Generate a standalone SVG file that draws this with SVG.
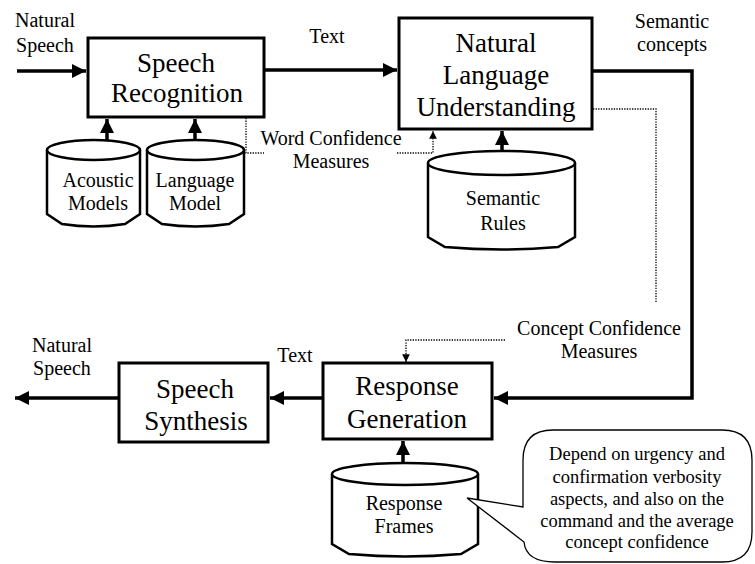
<svg xmlns="http://www.w3.org/2000/svg" width="755" height="564" viewBox="0 0 755 564">
<style>
text{font-family:'Liberation Serif','Tinos','DejaVu Serif','Noto Serif',serif;fill:#000;text-anchor:middle}
.big{font-size:27px}
.sm{font-size:20px}
.note{font-size:18.5px}
.box{fill:#fff;stroke:#000;stroke-width:3}
.cyl{fill:#fff;stroke:#000;stroke-width:2.5}
.thick{fill:none;stroke:#000;stroke-width:3.5}
.dot{fill:none;stroke:#000;stroke-width:1.3;stroke-dasharray:1.3 1.3}
</style>
<defs>
<marker id="ah" viewBox="0 0 10 10" refX="10" refY="5" markerWidth="4" markerHeight="4" orient="auto" markerUnits="strokeWidth">
<path d="M0,0 L10,5 L0,10 Z" fill="#000"/>
</marker>
<marker id="ahs" viewBox="0 0 10 10" refX="10" refY="5" markerWidth="6" markerHeight="6" orient="auto" markerUnits="strokeWidth">
<path d="M0,0 L10,5 L0,10 Z" fill="#000"/>
</marker>
</defs>

<g id="connectors">
<path class="thick" d="M17,71 H86" marker-end="url(#ah)"/>
<path class="thick" d="M264,70 H397" marker-end="url(#ah)"/>
<path class="thick" d="M592,71 H692 V398 H494" marker-end="url(#ah)"/>
<path class="thick" d="M323,398 H270" marker-end="url(#ah)"/>
<path class="thick" d="M119,398 H15" marker-end="url(#ah)"/>
<path class="thick" d="M107,150 V119" marker-end="url(#ah)"/>
<path class="thick" d="M195,150 V119" marker-end="url(#ah)"/>
<path class="thick" d="M502,163 V131" marker-end="url(#ah)"/>
<path class="thick" d="M403,474 V441" marker-end="url(#ah)"/>
<path class="dot" d="M246,118 V153 H264"/>
<path class="dot" d="M397,153 H433 V131" marker-end="url(#ahs)"/>
<path class="dot" d="M593,109 H656 V302"/>
<path class="dot" d="M505,340 H406 V362" marker-end="url(#ahs)"/>
</g>

<g id="labels" font-family="Liberation Serif, serif">
<text class="sm" x="45" y="27">Natural</text>
<text class="sm" x="45" y="52">Speech</text>
<text class="sm" x="327" y="43">Text</text>
<text class="sm" x="672" y="28">Semantic</text>
<text class="sm" x="672" y="51">concepts</text>
<text class="sm" x="331" y="145">Word Confidence</text>
<text class="sm" x="331" y="168">Measures</text>
<text class="sm" x="599" y="335">Concept Confidence</text>
<text class="sm" x="599" y="358">Measures</text>
<text class="sm" x="62" y="352">Natural</text>
<text class="sm" x="62" y="375">Speech</text>
<text class="sm" x="295" y="362">Text</text>
</g>

<g id="speech-recognition">
<rect class="box" x="88" y="38" width="176" height="79"/>
<text class="big" x="176" y="72">Speech</text>
<text class="big" x="177" y="102">Recognition</text>
</g>

<g id="nlu">
<rect class="box" x="399" y="18" width="193" height="111"/>
<text class="big" x="496" y="52">Natural</text>
<text class="big" x="496" y="84">Language</text>
<text class="big" x="496" y="116">Understanding</text>
</g>

<g id="acoustic-models">
<path class="cyl" d="M47,150 V214 L62,224 Q93.5,229 125,224 L140,214 V150"/>
<ellipse class="cyl" cx="93.5" cy="150" rx="46.5" ry="10"/>
<text class="sm" x="98" y="187">Acoustic</text>
<text class="sm" x="98" y="210">Models</text>
</g>

<g id="language-model">
<path class="cyl" d="M147,150 V214 L162,224 Q195.5,229 229,224 L244,214 V150"/>
<ellipse class="cyl" cx="195.5" cy="150" rx="48.5" ry="10"/>
<text class="sm" x="195" y="187">Language</text>
<text class="sm" x="195" y="210">Model</text>
</g>

<g id="semantic-rules">
<path class="cyl" d="M428,163 V237 L445,247 Q501.5,252 558,247 L575,237 V163"/>
<ellipse class="cyl" cx="501.5" cy="163" rx="73.5" ry="12"/>
<text class="sm" x="503" y="205">Semantic</text>
<text class="sm" x="503" y="230">Rules</text>
</g>

<g id="speech-synthesis">
<rect class="box" x="119" y="363" width="149" height="79"/>
<text class="big" x="195" y="398">Speech</text>
<text class="big" x="196" y="430">Synthesis</text>
</g>

<g id="response-generation">
<rect class="box" x="323" y="363" width="169" height="76"/>
<text class="big" x="407" y="395">Response</text>
<text class="big" x="407" y="428">Generation</text>
</g>

<g id="response-frames">
<path class="cyl" d="M332,474 V544 L349,554 Q405,559 461,554 L478,544 V474"/>
<ellipse class="cyl" cx="405" cy="474" rx="73" ry="11"/>
<text class="sm" x="404" y="510">Response</text>
<text class="sm" x="404" y="533">Frames</text>
</g>

<g id="callout">
<path d="M553,430 H722 Q752,430 752,460 V532 Q752,562 722,562 H555 Q526,562 524,542 L467,498 L523,507 V460 Q523,430 553,430 Z" fill="#fff" stroke="#000" stroke-width="1.3"/>
<text class="note" x="637" y="460">Depend on urgency and</text>
<text class="note" x="637" y="483">confirmation verbosity</text>
<text class="note" x="637" y="505">aspects, and also on the</text>
<text class="note" x="637" y="527">command and the average</text>
<text class="note" x="637" y="548">concept confidence</text>
</g>
</svg>
